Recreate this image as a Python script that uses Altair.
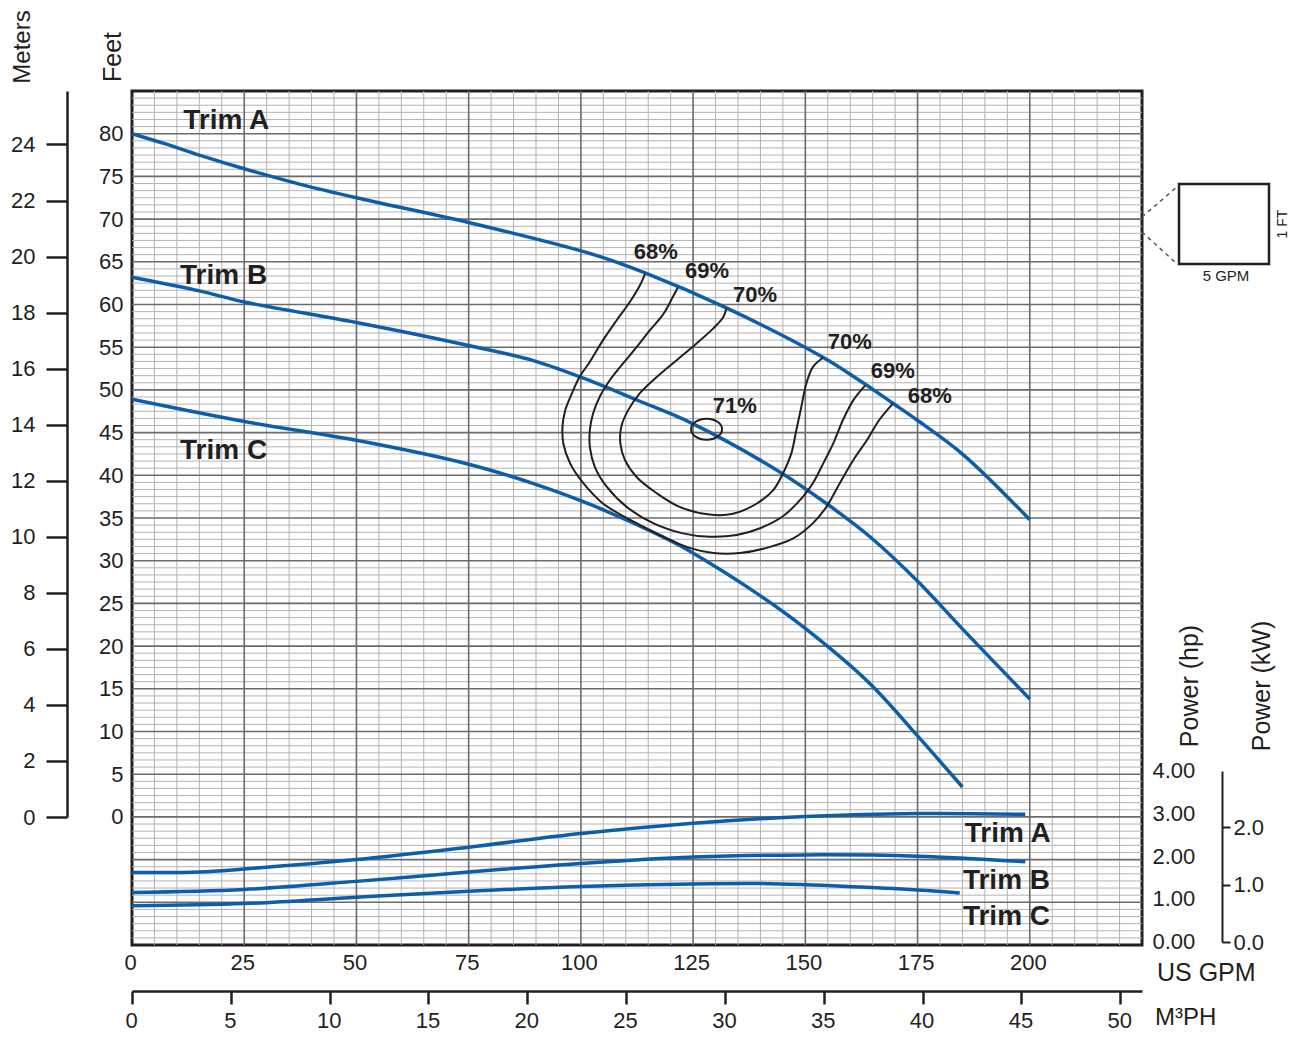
import altair as alt
import pandas as pd

FONT = "Liberation Sans"
INK = "#231f20"
BLUE = "#0d5ea8"

# ---------------- data ----------------
trims = ["Trim A", "Trim B", "Trim C"]

# head curves (US GPM, feet)
head_A_gpm = [0, 7.5, 15, 25, 37.3, 50, 75, 102.5, 114.3, 132.4, 154, 162.1, 169.6, 174.8, 185.2, 200]
head_A_ft = [80.0, 78.8, 77.5, 75.9, 74.1, 72.5, 69.6, 65.9, 63.7, 59.6, 53.8, 51.1, 48.4, 46.5, 42.4, 34.8]
head_B_gpm = [0, 15, 25, 50, 75, 89.6, 102.4, 113, 124.3, 144.3, 154.7, 164.4, 174.8, 185.2, 200]
head_B_ft = [63.2, 61.6, 60.3, 57.9, 55.2, 53.4, 51.0, 48.7, 46.2, 40.4, 36.7, 32.8, 27.7, 21.9, 13.8]
head_C_gpm = [0, 25, 50, 75, 89.6, 102.5, 120.5, 124.3, 139.1, 149.9, 164.4, 174.8, 185.0]
head_C_ft = [48.9, 46.3, 44.1, 41.3, 39.0, 36.5, 32.2, 31.1, 26.2, 22.1, 15.6, 9.6, 3.5]

# power curves (US GPM, hp)
pow_A_gpm = [0, 15, 25, 50, 75, 100, 125, 150, 175, 199]
pow_A_hp = [1.62, 1.63, 1.70, 1.92, 2.21, 2.53, 2.77, 2.93, 3.00, 2.98]
pow_B_gpm = [0, 25, 50, 75, 100, 125, 150, 175, 199]
pow_B_hp = [1.15, 1.22, 1.41, 1.63, 1.83, 1.98, 2.03, 2.00, 1.87]
pow_C_gpm = [0, 25, 50, 75, 100, 125, 140, 150, 175, 184.4]
pow_C_hp = [0.84, 0.89, 1.04, 1.18, 1.29, 1.35, 1.36, 1.33, 1.21, 1.14]

# efficiency contours (US GPM, feet)
eff68_gpm = [114.3, 113.1, 110.9, 107.9, 104.9, 102.0, 99.7, 98.0, 96.5, 95.9, 96.1, 97.6, 100.5, 104.9,
             110.9, 117.6, 124.2, 129.5, 135.4, 141.4, 147.3, 151.7, 154.7, 157.7, 160.7, 163.7, 166.5, 169.5]
eff68_ft = [63.6, 62.2, 60.3, 58.1, 55.8, 53.3, 51.5, 49.6, 47.6, 45.7, 43.7, 41.4, 39.1, 36.7,
            34.8, 33.0, 31.5, 30.9, 30.9, 31.5, 32.6, 34.4, 36.3, 39.1, 41.8, 44.1, 46.5, 48.4]
eff69_gpm = [121.6, 120.5, 118.4, 115.4, 112.4, 109.4, 106.4, 104.2, 102.7, 102.0, 102.0, 103.1, 105.7, 110.2,
             116.1, 122.7, 128.7, 134.7, 139.9, 145.0, 149.5, 151.7, 154.0, 156.2, 158.4, 160.7, 163.3]
eff69_ft = [62.0, 60.9, 58.9, 57.0, 55.0, 53.1, 51.1, 49.2, 47.2, 45.3, 43.3, 41.0, 38.7, 36.3,
            34.4, 33.2, 32.8, 33.0, 33.8, 35.2, 37.5, 39.1, 41.4, 43.7, 46.5, 48.8, 50.5]
eff70_gpm = [132.4, 131.7, 129.5, 125.7, 121.4, 116.9, 113.1, 110.5, 109.0, 108.8, 109.8, 112.4, 116.9, 122.0,
             128.7, 133.9, 139.2, 142.9, 145.0, 146.9, 148.0, 149.1, 150.2, 151.7, 154.0]
eff70_ft = [59.5, 58.5, 57.2, 55.4, 53.5, 51.5, 49.6, 47.6, 45.7, 43.7, 41.8, 39.8, 37.9, 36.3,
            35.4, 35.5, 36.7, 38.3, 40.2, 42.6, 45.3, 48.0, 50.7, 52.7, 53.8]
best_gpm, best_ft = 128.0, 45.4

pct_text = ["68%", "69%", "70%", "70%", "69%", "68%", "71%"]
pct_gpm = [116.7, 128.1, 138.8, 159.9, 169.5, 177.7, 134.3]
pct_ft = [66.2, 63.9, 61.1, 55.6, 52.2, 49.3, 48.1]

head_lbl_gpm = [11.4, 10.7, 10.7]
head_lbl_ft = [81.5, 63.3, 42.8]
pow_lbl_gpm = [185.5, 185.1, 185.1]
pow_lbl_hp = [2.51, 1.43, 0.58]

gpm_ticks = [0, 25, 50, 75, 100, 125, 150, 175, 200]
ft_ticks = list(range(0, 81, 5))
m_ticks = list(range(0, 25, 2))
m3_ticks = list(range(0, 51, 5))
hp_ticks = [0, 1, 2, 3, 4]
kw_ticks = [0, 1, 2]

# grid positions
grid_v_major = [25, 50, 75, 100, 125, 150, 175, 200]
grid_v_minor = [v for v in range(5, 225, 5) if v % 25]
grid_h_major = list(range(-10, 85, 5))
grid_h_minor = [-15 + k * 5 / 6 for k in range(1, 120) if k % 6]

# ---------------- tables ----------------
head_df = pd.concat([
    pd.DataFrame({"trim": t, "gpm": g, "ft": f})
    for t, g, f in zip(trims, [head_A_gpm, head_B_gpm, head_C_gpm], [head_A_ft, head_B_ft, head_C_ft])
])
pow_df = pd.concat([
    pd.DataFrame({"trim": t, "gpm": g, "hp": h})
    for t, g, h in zip(trims, [pow_A_gpm, pow_B_gpm, pow_C_gpm], [pow_A_hp, pow_B_hp, pow_C_hp])
])
eff_df = pd.concat([
    pd.DataFrame({"eff": e, "i": range(len(g)), "gpm": g, "ft": f})
    for e, g, f in zip(["68", "69", "70"], [eff68_gpm, eff69_gpm, eff70_gpm], [eff68_ft, eff69_ft, eff70_ft])
])

W, H = 1010, 854
XS = alt.Scale(domain=[0, 225], nice=False, zero=False)
YS = alt.Scale(domain=[-15, 85], nice=False, zero=False)
HS = alt.Scale(domain=[-0.08, 19.92], nice=False, zero=False)

x_axis = alt.Axis(values=gpm_ticks, ticks=False, domain=False, grid=False, labelFontSize=22,
                  labelFont=FONT, labelColor=INK, labelPadding=7, labelFlush=False, labelOffset=-2,
                  title=None)
y_axis = alt.Axis(values=ft_ticks, ticks=False, domain=False, grid=False, labelFontSize=22,
                  labelFont=FONT, labelColor=INK, labelPadding=9, labelFlush=False, title=None)


def X(f):
    return alt.X(f, type="quantitative", scale=XS, axis=x_axis)


def Y(f):
    return alt.Y(f, type="quantitative", scale=YS, axis=y_axis)


def vgrid(vals, color, w):
    return alt.Chart(pd.DataFrame({"v": vals})).mark_rule(color=color, strokeWidth=w).encode(x=X("v"))


def hgrid(vals, color, w):
    return alt.Chart(pd.DataFrame({"v": vals})).mark_rule(color=color, strokeWidth=w).encode(y=Y("v"))


one = pd.DataFrame({"a": [0]})


def ptext(txt, x, y, size, angle=0, align="center", weight="normal"):
    kw = dict(text=txt, font=FONT, fontSize=size, color=INK, align=align, baseline="middle", fontWeight=weight)
    if angle:
        kw["angle"] = angle
    return alt.Chart(one).mark_text(**kw).encode(x=alt.value(x), y=alt.value(y))


grid = alt.layer(
    vgrid(grid_v_minor, "#b3b3b3", 1),
    hgrid(grid_h_minor, "#b3b3b3", 1),
    vgrid(grid_v_major, "#6b6b6b", 1.6),
    hgrid(grid_h_major, "#6b6b6b", 1.6),
)

heads = alt.Chart(head_df).mark_line(color=BLUE, strokeWidth=3.5, interpolate="catmull-rom").encode(
    x=X("gpm"), y=Y("ft"), detail="trim:N")
effs = alt.Chart(eff_df).mark_line(color=INK, strokeWidth=2, interpolate="catmull-rom").encode(
    x=X("gpm"), y=Y("ft"), detail="eff:N", order="i:Q")
best = alt.Chart(pd.DataFrame({"gpm": [best_gpm], "ft": [best_ft]})).mark_point(
    shape="M-1,0A1,0.68,0,1,1,1,0A1,0.68,0,1,1,-1,0Z", size=961, filled=False, color=INK,
    strokeWidth=2, opacity=1).encode(x=X("gpm"), y=Y("ft"))
pct = alt.Chart(pd.DataFrame({"t": pct_text, "gpm": pct_gpm, "ft": pct_ft})).mark_text(
    font=FONT, fontSize=22, fontWeight="bold", color=INK, baseline="middle").encode(
    x=X("gpm"), y=Y("ft"), text="t:N")
head_lbls = alt.Chart(pd.DataFrame({"t": trims, "gpm": head_lbl_gpm, "ft": head_lbl_ft})).mark_text(
    font=FONT, fontSize=28, fontWeight="bold", color=INK, align="left", baseline="middle").encode(
    x=X("gpm"), y=Y("ft"), text="t:N")

deco = alt.layer(
    ptext("Meters", -109, -44, 24, angle=270),
    ptext("Feet", -19, -34, 25, angle=270),
    ptext("Power (hp)", 1058, 595, 25, angle=270),
    ptext("Power (kW)", 1130, 595, 25, angle=270),
    ptext("US GPM", 1025, 882, 25, align="left"),
    ptext("M³PH", 1023, 927, 24, align="left"),
    alt.Chart(one).mark_rule(color="#555555", strokeWidth=1.5, strokeDash=[4, 4]).encode(
        x=alt.value(1010), y=alt.value(126), x2=alt.value(1046), y2=alt.value(95)),
    alt.Chart(one).mark_rule(color="#555555", strokeWidth=1.5, strokeDash=[4, 4]).encode(
        x=alt.value(1010), y=alt.value(141), x2=alt.value(1044), y2=alt.value(172)),
    alt.Chart(one).mark_rect(fill="white", stroke=INK, strokeWidth=2.5).encode(
        x=alt.value(1047), x2=alt.value(1137), y=alt.value(93), y2=alt.value(173)),
    ptext("5 GPM", 1094, 185, 15),
    ptext("1 FT", 1151, 133, 14, angle=270),
)

main = alt.layer(grid, heads, effs, best, pct, head_lbls, deco)

# power (hp) layer with right axis
hp_axis = alt.Axis(orient="right", values=hp_ticks, format=".2f", ticks=False, domain=False, grid=False,
                   labelFontSize=22, labelFont=FONT, labelColor=INK, labelPadding=10, labelFlush=False,
                   title=None)
pow_lines = alt.Chart(pow_df).mark_line(color=BLUE, strokeWidth=3.5, interpolate="catmull-rom").encode(
    x=alt.X("gpm:Q", scale=XS, axis=None), y=alt.Y("hp:Q", scale=HS, axis=hp_axis), detail="trim:N")
pow_lbls = alt.Chart(pd.DataFrame({"t": trims, "gpm": pow_lbl_gpm, "hp": pow_lbl_hp})).mark_text(
    font=FONT, fontSize=28, fontWeight="bold", color=INK, align="left", baseline="middle").encode(
    x=alt.X("gpm:Q", scale=XS, axis=None), y=alt.Y("hp:Q", scale=HS, axis=hp_axis), text="t:N")
hp_layer = alt.layer(pow_lines, pow_lbls)

# kW axis
kw_layer = alt.Chart(pd.DataFrame({"kw": kw_ticks})).mark_point(opacity=0).encode(
    y=alt.Y("kw:Q", scale=alt.Scale(domain=[0, 4 / 1.341], range=[851, 680], nice=False, zero=False),
            axis=alt.Axis(orient="right", offset=80, values=kw_ticks, format=".1f", domain=True,
                          domainColor=INK, domainWidth=2, ticks=True, tickSize=8, tickWidth=2,
                          tickColor=INK, labelPadding=3, labelFontSize=22, labelFont=FONT,
                          labelColor=INK, labelFlush=False, grid=False, title=None)))

# meters axis
m_layer = alt.Chart(pd.DataFrame({"m": m_ticks})).mark_point(opacity=0).encode(
    y=alt.Y("m:Q", scale=alt.Scale(domain=[0, 85 / 3.28084], range=[726, 0], nice=False, zero=False),
            axis=alt.Axis(orient="left", offset=65, values=m_ticks, domain=True, domainColor=INK,
                          domainWidth=2.5, ticks=True, tickSize=21, tickWidth=2.5, tickColor=INK,
                          labelPadding=11, labelFontSize=22, labelFont=FONT, labelColor=INK,
                          labelFlush=False, grid=False, title=None)))

# m3/h axis
m3_layer = alt.Chart(pd.DataFrame({"q": m3_ticks})).mark_point(opacity=0).encode(
    x=alt.X("q:Q", scale=alt.Scale(domain=[0, 225 / 4.4029], nice=False, zero=False),
            axis=alt.Axis(orient="bottom", offset=46, values=m3_ticks, domain=True, domainColor=INK,
                          domainWidth=2.5, ticks=True, tickSize=13, tickWidth=2.5, tickColor=INK,
                          labelPadding=6, labelFontSize=22, labelFont=FONT, labelColor=INK,
                          labelFlush=False, labelOffset=-1, grid=False, title=None)))

chart = alt.layer(main, m_layer, hp_layer, kw_layer, m3_layer).resolve_scale(
    x="independent", y="independent"
).properties(
    width=W, height=H,
    autosize=alt.AutoSizeParams(type="none"),
    padding={"left": 124, "top": 83, "right": 147, "bottom": 87},
).configure_view(stroke=INK, strokeWidth=3)

chart.save("out.html", embed_options={"renderer": "svg", "actions": False})
